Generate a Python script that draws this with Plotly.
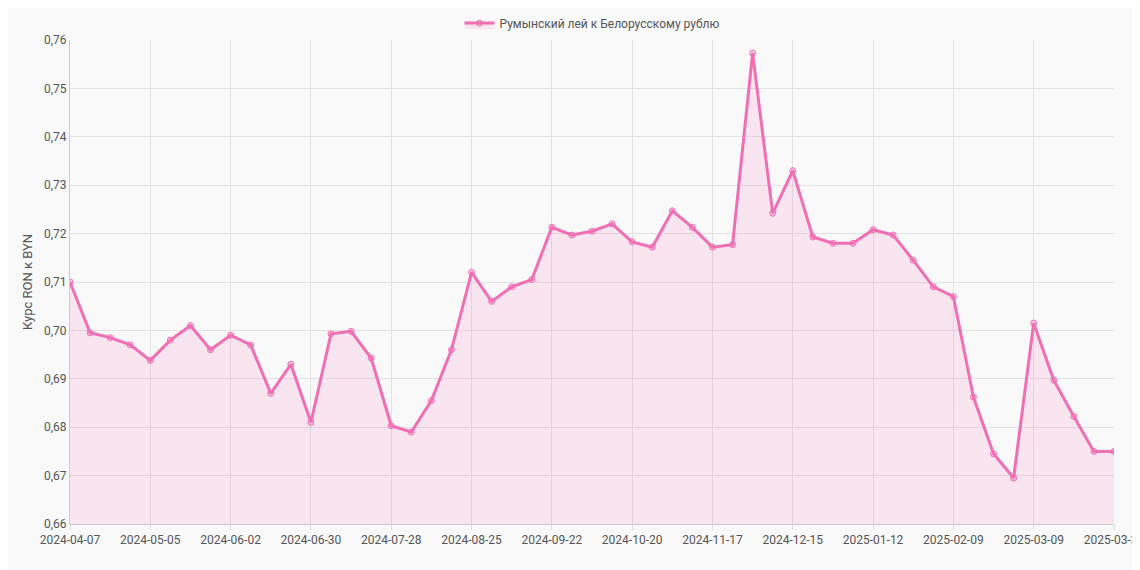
import plotly.graph_objects as go
from datetime import date, timedelta

dates = [(date(2024,4,7)+timedelta(weeks=k)).isoformat() for k in range(52)] + ["2025-03-31"]
values = [0.710,0.6995,0.6985,0.697,0.6938,0.698,0.701,0.696,0.699,0.697,
          0.687,0.693,0.681,0.6993,0.6998,0.6943,0.6803,0.679,0.6855,0.696,
          0.712,0.706,0.709,0.7105,0.7213,0.7197,0.7205,0.722,0.7183,0.7172,
          0.7247,0.7213,0.7172,0.7177,0.7573,0.7242,0.7330,0.7193,0.718,0.718,
          0.7208,0.7197,0.7145,0.709,0.707,0.6862,0.6745,0.6695,0.7015,0.6897,
          0.6822,0.675,0.675]
tick_labels = [dates[i] for i in range(0,52,4)] + ["2025-03-31"]

fig = go.Figure(go.Scatter(
    x=dates, y=values, mode="lines+markers", name="Румынский лей к Белорусскому рублю",
    line=dict(color="#f06fb4", width=3),
    marker=dict(size=6, color="rgba(244,114,182,0.35)", line=dict(color="#f06fb4", width=1)),
    fill="tozeroy", fillcolor="rgba(244,114,182,0.15)"))
fig.update_layout(
    width=1140, height=570, margin=dict(l=62, r=34, t=32, b=54, autoexpand=False),
    paper_bgcolor="#f9f9f9", plot_bgcolor="#f9f9f9", separators=", ",
    font=dict(family="Roboto, Arial, sans-serif", size=12, color="#555"),
    showlegend=True,
    legend=dict(orientation="h", x=0.5, xanchor="center", y=1.005, yanchor="bottom", font=dict(size=12)),
    xaxis=dict(type="category", tickmode="array", tickvals=tick_labels, ticktext=tick_labels,
               showgrid=True, gridcolor="#e2e2e2", showline=True, linecolor="#ccc", automargin=False,
               ticks="outside", tickcolor="#ddd", tickangle=0, range=[0, 52]),
    yaxis=dict(range=[0.66, 0.76], dtick=0.01, tickformat=".2f", showgrid=True, gridcolor="#e2e2e2",
               showline=True, linecolor="#ccc", automargin=False,
               title=dict(text="Курс RON к BYN", font=dict(size=13), standoff=8),
               zeroline=False),
)
fig.write_html("out.html")
